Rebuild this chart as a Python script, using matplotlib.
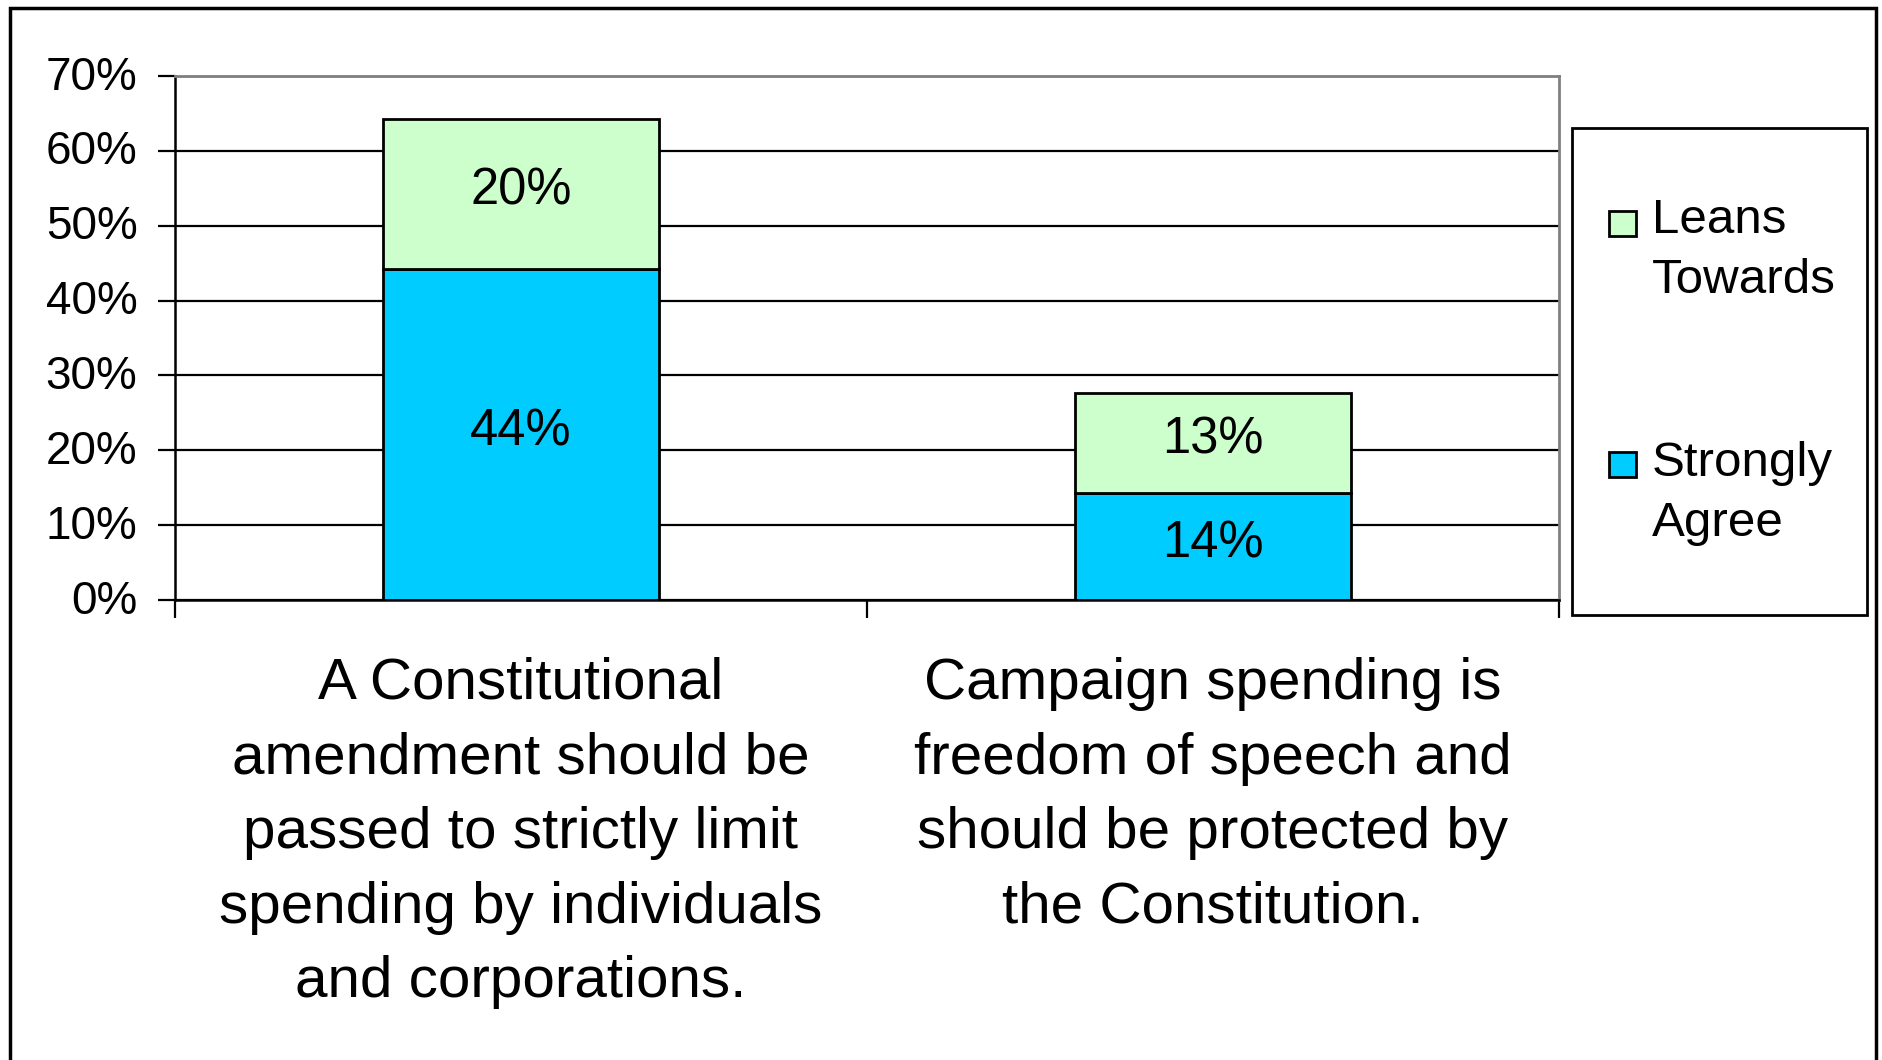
import matplotlib
matplotlib.use('Agg')
import matplotlib.pyplot as plt
import matplotlib.transforms as mtransforms
from matplotlib.patches import Rectangle

plt.rcParams['font.family'] = ['Liberation Sans', 'DejaVu Sans']

# Data
categories = ['A Constitutional\namendment should be\npassed to strictly limit\nspending by individuals\nand corporations.',
              'Campaign spending is\nfreedom of speech and\nshould be protected by\nthe Constitution.']
strongly_agree = [44.2, 14.3]
leans_towards = [20.0, 13.3]
series_names = ['Leans\nTowards', 'Strongly\nAgree']
series_colors = ['#CCFFCC', '#00CCFF']
y_ticks = [0, 10, 20, 30, 40, 50, 60, 70]

W, H = 1883, 1060
fig = plt.figure(figsize=(W / 100, H / 100), dpi=100)
ax = fig.add_axes([175 / W, 1 - 600 / H, (1559 - 175) / W, (600 - 76) / H])

x = list(range(len(categories)))
ax.bar(x, strongly_agree, width=0.4, color=series_colors[1], edgecolor='black', linewidth=2, zorder=3)
ax.bar(x, leans_towards, width=0.4, bottom=strongly_agree, color=series_colors[0],
       edgecolor='black', linewidth=2, zorder=3)

# Labels in the middle of each segment
for i in x:
    ax.annotate('%d%%' % round(strongly_agree[i]), (i, strongly_agree[i] / 2), xytext=(0, 2),
                textcoords='offset points', ha='center', va='center', fontsize=36.5, zorder=4)
    ax.annotate('%d%%' % round(leans_towards[i]), (i, strongly_agree[i] + leans_towards[i] / 2),
                xytext=(0, 2), textcoords='offset points', ha='center', va='center', fontsize=36.5, zorder=4)

ax.set_xlim(-0.5, len(categories) - 0.5)
ax.set_ylim(0, 70)
ax.set_yticks(y_ticks)
ax.set_yticklabels(['%d%%' % t for t in y_ticks], fontsize=33)
ax.yaxis.grid(True, color='black', linewidth=1.6, zorder=0)
ax.set_axisbelow(True)
ax.tick_params(axis='y', direction='out', length=12.5, width=1.6, pad=14.5)
shift_up = mtransforms.ScaledTranslation(0, 3.5 / 100, fig.dpi_scale_trans)
for lab in ax.get_yticklabels():
    lab.set_transform(lab.get_transform() + shift_up)

ax.set_xticks(x)
ax.set_xticklabels(categories, fontsize=42, linespacing=1.49)
ax.tick_params(axis='x', which='major', length=0, pad=41)
ax.set_xticks([-0.5, 0.5, 1.5], minor=True)
ax.tick_params(axis='x', which='minor', direction='out', length=13, width=1.6)

for side in ['top', 'right']:
    ax.spines[side].set_color('#808080')
    ax.spines[side].set_linewidth(2)
for side in ['left', 'bottom']:
    ax.spines[side].set_color('black')
    ax.spines[side].set_linewidth(1.8)

# Legend box drawn by hand so the swatch sits on the first text line
fig.patches.append(Rectangle((1572 / W, 1 - 615 / H), (1867 - 1572) / W, (615 - 128) / H,
                             transform=fig.transFigure, facecolor='white', edgecolor='black', linewidth=2))
swatch_tops = [211, 452]
text_tops = [198, 441]
for name, color, s_top, t_top in zip(series_names, series_colors, swatch_tops, text_tops):
    fig.patches.append(Rectangle((1609 / W, 1 - (s_top + 25) / H), 27 / W, 25 / H,
                                 transform=fig.transFigure, facecolor=color, edgecolor='black', linewidth=2))
    fig.text(1652 / W, 1 - t_top / H, name, fontsize=35.5, va='top', ha='left', linespacing=1.42)

# Outer chart frame, bottom edge runs off the image
fig.patches.append(Rectangle((10.5 / W, -0.05), (1876 - 10.5) / W, 1.05 - 7.5 / H,
                             transform=fig.transFigure, fill=False, edgecolor='black', linewidth=2.5))

fig.savefig('out.png', dpi=100)
